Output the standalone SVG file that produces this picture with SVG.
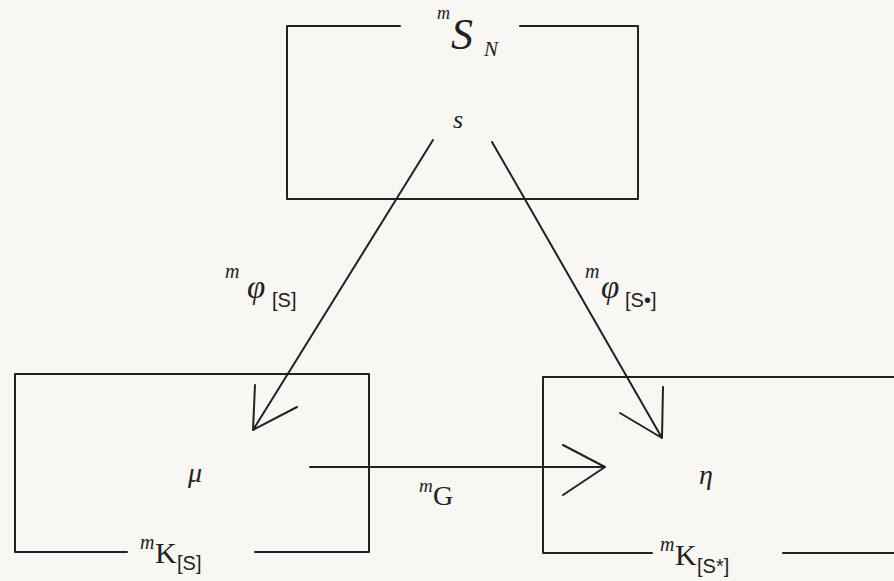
<svg xmlns="http://www.w3.org/2000/svg" width="894" height="581" viewBox="0 0 894 581">
<style>
.ln{fill:none;stroke:#222;stroke-width:2;stroke-linecap:round;stroke-linejoin:round}
.t{font-family:"Liberation Serif","DejaVu Serif",serif;fill:#222}
.i{font-style:italic}
.sf{font-family:"Liberation Sans","DejaVu Sans",sans-serif;font-style:normal}
</style>
<rect width="894" height="581" fill="#f8f7f3"/>
<g id="node-SN">
<path class="ln" d="M400,26 L287,26 L287,199 L638,199 L638,26 L520,26"/>
<text class="t i" x="437" y="19" font-size="18"><tspan>m</tspan><tspan x="451" y="49" font-size="44">S</tspan><tspan x="484" y="56" font-size="21">N</tspan></text>
<text class="t i" x="458" y="128" font-size="26" text-anchor="middle">s</text>
</g>
<g id="node-KS">
<path class="ln" d="M127,552 L15,552 L15,374 L369,374 L369,552 L255,552"/>
<text class="t i" x="195" y="482" font-size="28" text-anchor="middle">μ</text>
<text class="t" x="140" y="549" font-size="20"><tspan class="i">m</tspan><tspan x="155" y="563" font-size="30">K</tspan><tspan class="sf" x="177" y="570" font-size="20">[S]</tspan></text>
</g>
<g id="node-KSstar">
<path class="ln" d="M652,553 L543,553 L543,377 L894,377 M783,553 L894,553"/>
<text class="t i" x="706" y="484" font-size="28" text-anchor="middle">η</text>
<text class="t" x="660" y="551" font-size="20"><tspan class="i">m</tspan><tspan x="675" y="565" font-size="30">K</tspan><tspan class="sf" x="697" y="573" font-size="20">[S*]</tspan></text>
</g>
<g id="connectors">
<path class="ln" d="M433,140 L253,430 M255,385 L253,430 L297,407"/>
<path class="ln" d="M492,142 L662,438 M663,387 L662,438 L620,413"/>
<path class="ln" d="M310,467 L605,467 M563,445 L605,467 L563,495"/>
<text class="t i" x="225" y="278" font-size="20"><tspan>m</tspan><tspan x="247" y="298" font-size="33">φ</tspan><tspan class="sf" x="272" y="307" font-size="20">[S]</tspan></text>
<text class="t i" x="585" y="278" font-size="20"><tspan>m</tspan><tspan x="601" y="298" font-size="33">φ</tspan><tspan class="sf" x="625" y="307" font-size="20">[S•]</tspan></text>
<text class="t" x="419" y="492" font-size="19"><tspan class="i">m</tspan><tspan x="433" y="505" font-size="28">G</tspan></text>
</g>
</svg>
